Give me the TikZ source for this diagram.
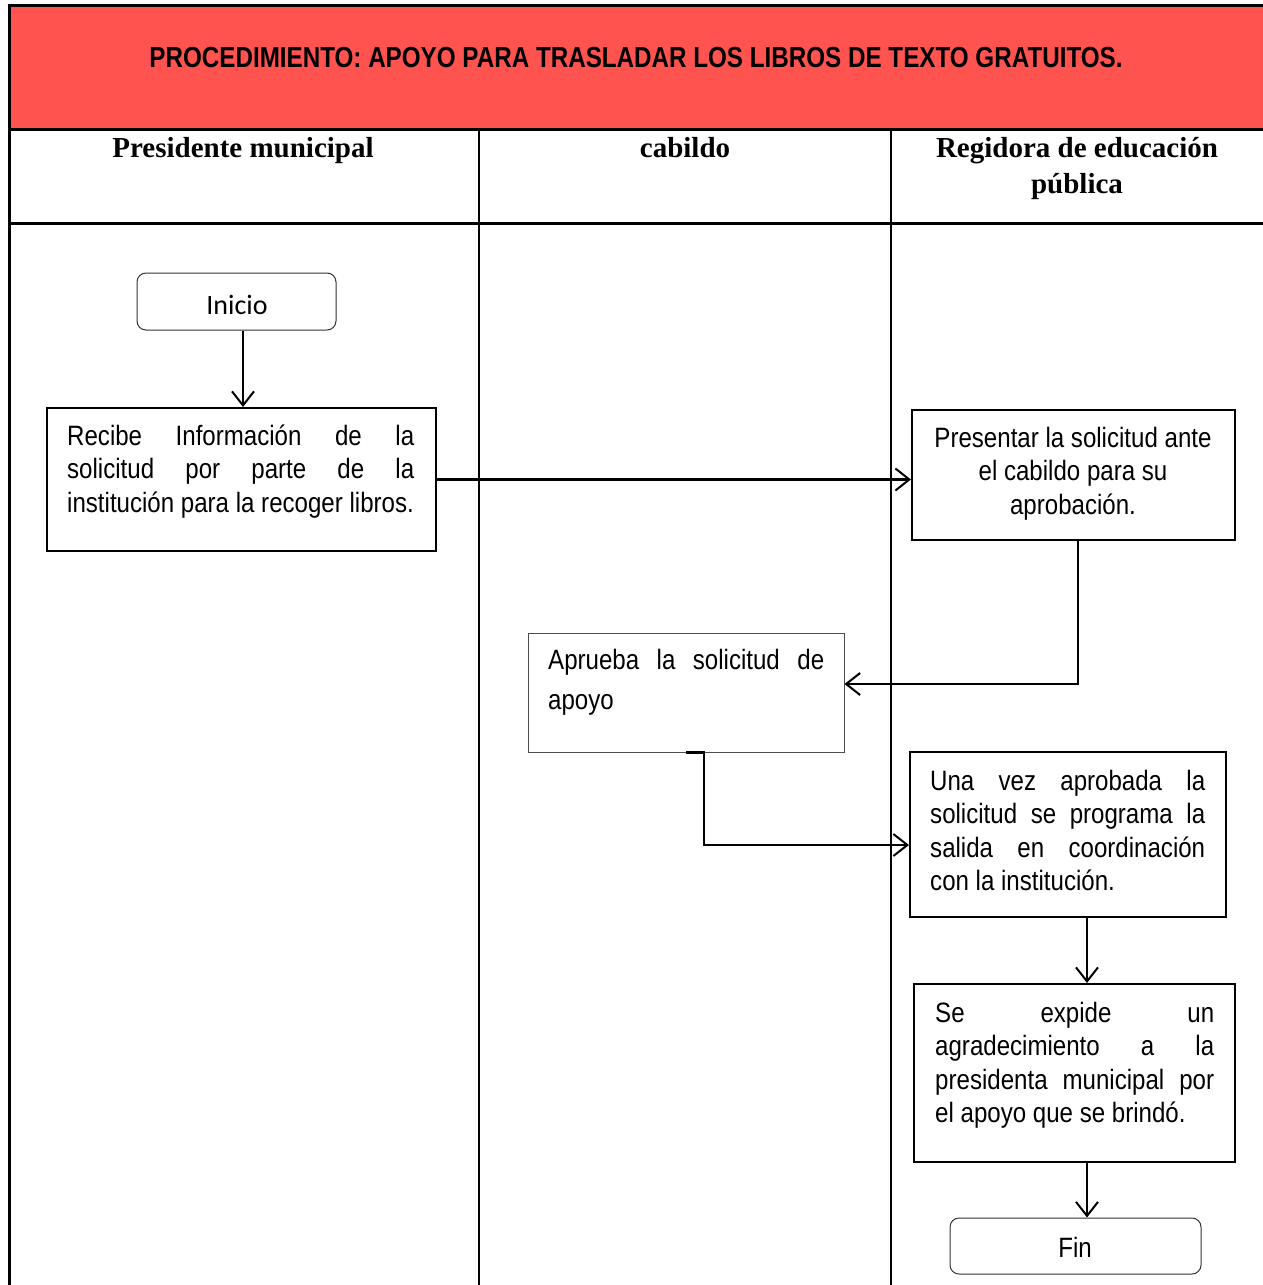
\documentclass[tikz,border=0pt]{standalone}
\usepackage{fontspec}
\usetikzlibrary{arrows.meta}
\setmainfont{Liberation Sans}
\newfontfamily\narrowfont[FakeStretch=0.86]{Liberation Sans}
\newfontfamily\titlefont[FakeStretch=0.835]{Liberation Sans Bold}
\newfontfamily\headfont{Liberation Serif Bold}
\newfontfamily\roundfont{Carlito}
\definecolor{bandred}{HTML}{FF5350}
% one justified line, and one left-aligned last line, of a box text
\newcommand{\justline}[2]{\makebox[#1][s]{\strut #2}}
\newcommand{\lastline}[2]{\makebox[#1][l]{\strut #2}}
\tikzset{
  frameline/.style={line width=3pt, line cap=rect},
  stepbox/.style={draw, line width=2pt, inner sep=0pt},
  thinbox/.style={draw=black!70, line width=1pt, inner sep=0pt},
  roundbox/.style={draw=black!80, line width=1pt, rounded corners=9pt, inner sep=0pt},
  boxtext/.style={inner sep=0pt, align=left, anchor=north west,
    font=\narrowfont\fontsize{28}{33.5}\selectfont},
  flow/.style={line width=2.4pt, -{Straight Barb[length=14pt, width=22pt, line width=2pt]}},
}
\begin{document}
\begin{tikzpicture}[x=1pt, y=-1pt]
\useasboundingbox (0,0) rectangle (1263,1285);

% title band and lane headers
\fill[bandred] (9,5) rectangle (1270,129);
\draw[frameline] (9,5) -- (1270,5);
\draw[frameline] (9,5) -- (9,1290);
\draw[frameline] (9,129) -- (1270,129);
\draw[frameline] (9,223) -- (1270,223);
\draw[line width=2.8pt] (479,129) -- (479,1290);
\draw[line width=2.8pt] (891,129) -- (891,1290);

\node[anchor=base, inner sep=0pt, font=\titlefont\fontsize{29}{34}\selectfont] (title) at (636,67)
  {PROCEDIMIENTO: APOYO PARA TRASLADAR LOS LIBROS DE TEXTO GRATUITOS.};
\node[anchor=base, inner sep=0pt, font=\headfont\fontsize{29}{36}\selectfont] (lane1) at (243,157) {Presidente municipal};
\node[anchor=base, inner sep=0pt, font=\headfont\fontsize{29}{36}\selectfont] (lane2) at (685,157) {cabildo};
\node[anchor=base, inner sep=0pt, font=\headfont\fontsize{29}{36}\selectfont] (lane3a) at (1077,157) {Regidora de educación};
\node[anchor=base, inner sep=0pt, font=\headfont\fontsize{29}{36}\selectfont] (lane3b) at (1077,193) {pública};

% process boxes
\node[roundbox, minimum width=199pt, minimum height=57pt] (inicio) at (236.5,301.5) {};
\node[anchor=base, inner sep=0pt, font=\roundfont\fontsize{28}{34}\selectfont] (inicioT) at (237,314) {Inicio};

\node[stepbox, minimum width=389pt, minimum height=143pt] (recibe) at (241.5,479.5) {};
\node[boxtext] (recibeT) at (67,421.5) {%
  \justline{347pt}{Recibe Información de la}\\
  \justline{347pt}{solicitud por parte de la}\\
  \lastline{347pt}{institución para la recoger libros.}};

\node[stepbox, minimum width=323pt, minimum height=130pt] (pres) at (1073.5,475) {};
\node[boxtext, align=center, anchor=north] (presT) at (1073,423.5) {%
  \strut Presentar la solicitud ante\\ \strut el cabildo para su\\ \strut aprobación.};

\node[thinbox, minimum width=316pt, minimum height=119pt] (apr) at (686,692.5) {};
\node[boxtext, font=\narrowfont\fontsize{28}{40}\selectfont] (aprT) at (548,641) {%
  \justline{276pt}{Aprueba la solicitud de}\\
  \lastline{276pt}{apoyo}};

\node[stepbox, minimum width=316pt, minimum height=165pt] (una) at (1068,834.5) {};
\node[boxtext] (unaT) at (930,766.5) {%
  \justline{275pt}{Una vez aprobada la}\\
  \justline{275pt}{solicitud se programa la}\\
  \justline{275pt}{salida en coordinación}\\
  \lastline{275pt}{con la institución.}};

\node[stepbox, minimum width=321pt, minimum height=178pt] (exp) at (1074.5,1073) {};
\node[boxtext] (expT) at (935,998.5) {%
  \justline{279pt}{Se expide un}\\
  \justline{279pt}{agradecimiento a la}\\
  \justline{279pt}{presidenta municipal por}\\
  \lastline{279pt}{el apoyo que se brindó.}};

\node[roundbox, minimum width=251pt, minimum height=56pt] (fin) at (1075.5,1246) {};
\node[anchor=base, inner sep=0pt, font=\narrowfont\fontsize{28}{33}\selectfont] (finT) at (1075,1257) {Fin};

% connectors
\draw[flow] ([xshift=1.5pt]recibe.north |- inicio.south) -- ([xshift=1.5pt]recibe.north);
\draw[flow] (recibe.east) -- (pres.west |- recibe.east);
\draw[flow] ([xshift=4.5pt]pres.south) |- ([yshift=8.5pt]apr.east);
\draw[flow] (apr.south) -- ++(18,0) |- ([yshift=-10.5pt]una.west);
\draw[flow] ([xshift=19pt]una.south) -- ([xshift=19pt]una.south |- exp.north);
\draw[flow] ([xshift=12.5pt]exp.south) -- ([xshift=12.5pt]exp.south |- fin.north);
\end{tikzpicture}
\end{document}
